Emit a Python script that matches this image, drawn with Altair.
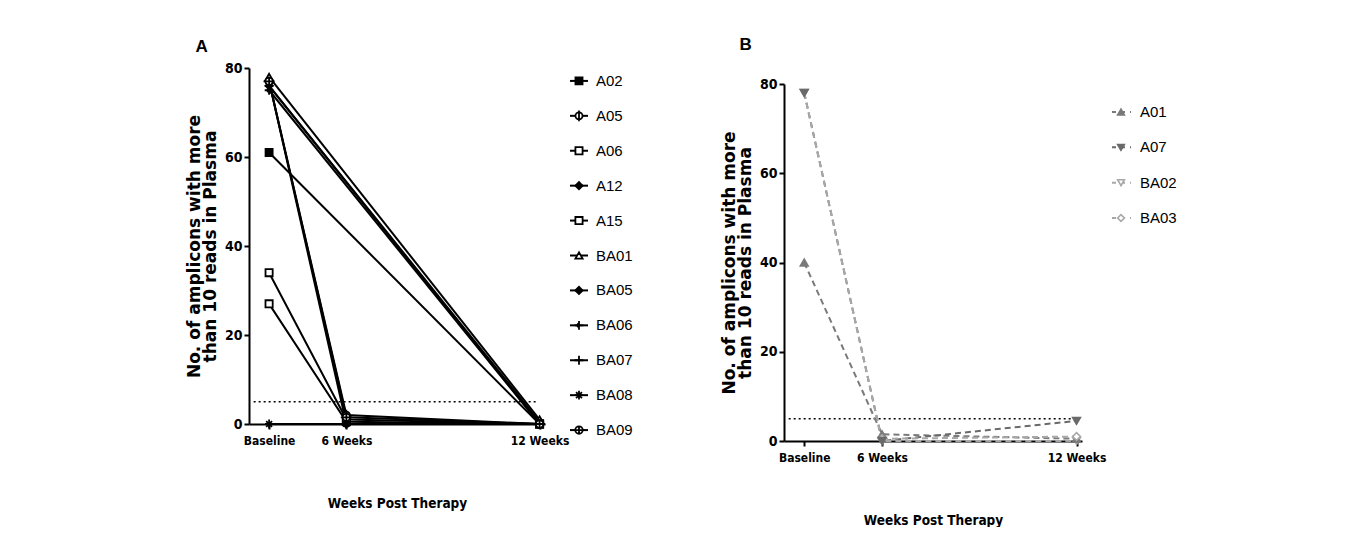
import altair as alt
import pandas as pd

# ---------------- data ----------------
time_labels = ["Baseline", "6 Weeks", "12 Weeks"]
time_pos = [0, 1, 3.5]          # uneven spacing of the time points on the axis

a_names = ["A02", "A05", "A06", "A12", "A15", "BA01", "BA05", "BA06", "BA07", "BA08", "BA09"]
a_base = [61, 77, 34, 76, 27, 78, 77, 75, 76, 0, 77]
a_w6 = [None, 2, 1, None, 0.5, None, 0, None, None, 0, 1.5]
a_w12 = [0, 0, 0, 0.5, 0, 1, 0, 0, 0, 0, 0]

b_names = ["A01", "A07", "BA02", "BA03"]
b_base = [40, 78, 78, None]
b_w6 = [1.5, 0, 0, 0.5]
b_w12 = [0.5, 4.5, 0, 1]
b_draw_order = [2, 4, 1, 3]     # A07 drawn on top of BA02

threshold = 5

# ---------------- styles ----------------
circ = "M1,0A1,1 0 1,1 -1,0A1,1 0 1,1 1,0Z"
a_shapes = [
    "square",
    circ + "M0,-1.5L0,1.5",
    "square",
    "diamond",
    "square",
    "triangle-up",
    "diamond",
    "M-1.2,0L1.2,0M0,-1.2L0,1.2M-0.5,-0.5L0,0L-0.5,0.5",
    "M-1.2,0L1.2,0M0,-1.2L0,1.2",
    "M-1.1,0L1.1,0M0,-1.2L0,1.2M-0.8,-0.8L0.8,0.8M-0.8,0.8L0.8,-0.8",
    circ + "M-1.5,0L1.5,0M0,-1L0,1",
]
a_fill = ["black", "white", "white", "black", "white", "white", "black", "black", "black", "black", "white"]
a_size = [50, 55, 60, 45, 60, 60, 60, 75, 85, 85, 60]

b_shapes = ["triangle-up", "triangle-down", "triangle-down", "diamond"]
b_color = ["#7a7a7a", "#6a6a6a", "#a8a8a8", "#a8a8a8"]
b_fill = ["#7a7a7a", "#6a6a6a", "white", "white"]

COND = "DejaVu Sans Condensed, Liberation Sans, sans-serif"
ARIAL = "Liberation Sans, Arial, sans-serif"
WIDE = "DejaVu Sans, Verdana, sans-serif"


def long_df(names, base, w6, w12, order=None):
    rows = []
    for i, n in enumerate(names):
        for t, v in zip(time_labels, (base[i], w6[i], w12[i])):
            if v is not None:
                rows.append({"patient": n, "time": t, "pos": time_pos[time_labels.index(t)], "value": v,
                             "draw": order[i] if order else i})
    return pd.DataFrame(rows)


dfa = long_df(a_names, a_base, a_w6, a_w12)
dfb = long_df(b_names, b_base, b_w6, b_w12, b_draw_order)

label_expr = " : ".join(
    [f"datum.value == {p} ? '{l}'" for p, l in zip(time_pos[:-1], time_labels[:-1])] + [f"'{time_labels[-1]}'"]
)

x_dom = [-0.26, 3.57]


def x_enc():
    return alt.X(
        "pos:Q",
        scale=alt.Scale(domain=x_dom, nice=False, zero=False),
        axis=alt.Axis(values=time_pos, labelExpr=label_expr, title="Weeks Post Therapy",
                      titlePadding=50, labelPadding=6),
    )


def y_enc(rng=None):
    sc = alt.Scale(domain=[0, 80], nice=False, range=rng) if rng else alt.Scale(domain=[0, 80], nice=False)
    return alt.Y(
        "value:Q",
        scale=sc,
        axis=alt.Axis(values=[0, 20, 40, 60, 80], tickCount=5,
                      title=["No. of amplicons with more", "than 10 reads in Plasma"],
                      titlePadding=5),
    )


# ---------------- panel A ----------------
baseA = alt.Chart(dfa)
linesA = baseA.mark_line(color="black", strokeWidth=2).encode(
    x=x_enc(), y=y_enc(), detail="patient:N", order="pos:Q"
)
pointsA = baseA.mark_point(strokeWidth=1.8, opacity=1).encode(
    x="pos:Q", y="value:Q",
    shape=alt.Shape("patient:N", scale=alt.Scale(domain=a_names, range=a_shapes), legend=None),
    fill=alt.Fill("patient:N", scale=alt.Scale(domain=a_names, range=a_fill), legend=None),
    size=alt.Size("patient:N", scale=alt.Scale(domain=a_names, range=a_size), legend=None),
    color=alt.value("black"),
)
thrA = alt.Chart(pd.DataFrame({"t": [threshold]})).mark_rule(
    color="black", strokeDash=[2, 3], strokeWidth=1.6
).encode(x=alt.datum(-0.2), x2=alt.datum(3.47), y="t:Q")

panelA = alt.layer(thrA, linesA, pointsA).properties(
    width=296, height=356,
    title=alt.TitleParams("A", anchor="start", frame="bounds", dx=10, offset=5, fontSize=17, font=ARIAL,
                          fontWeight="bold", color="black"),
)

# ---------------- panel B ----------------
HB = 373
baseB = alt.Chart(dfb)
linesB = baseB.mark_line(strokeWidth=2, strokeDash=[6, 4]).encode(
    x=x_enc(), y=y_enc([HB, 16]), detail="patient:N", order="pos:Q",
    color=alt.Color("patient:N", scale=alt.Scale(domain=b_names, range=b_color), legend=None),
)
pointsB = baseB.mark_point(strokeWidth=1.6, size=60, opacity=1).encode(
    x="pos:Q", y="value:Q",
    shape=alt.Shape("patient:N", scale=alt.Scale(domain=b_names, range=b_shapes), legend=None),
    fill=alt.Fill("patient:N", scale=alt.Scale(domain=b_names, range=b_fill), legend=None),
    color=alt.Color("patient:N", scale=alt.Scale(domain=b_names, range=b_color), legend=None),
    order=alt.Order("draw:Q"),
)
thrB = alt.Chart(pd.DataFrame({"t": [threshold]})).mark_rule(
    color="black", strokeDash=[2, 3], strokeWidth=1.6
).encode(x=alt.datum(-0.2), x2=alt.datum(3.47), y="t:Q")

panelB = alt.layer(thrB, linesB, pointsB).properties(
    width=298, height=HB,
    title=alt.TitleParams("B", anchor="start", frame="bounds", dx=19, offset=14, fontSize=17, font=ARIAL,
                          fontWeight="bold", color="black"),
)

# ---------------- manual legends ----------------
def legend_y(n, pad):
    return alt.Y("idx:Q", scale=alt.Scale(domain=[-pad, n - 1 + pad], reverse=True, nice=False, zero=False),
                 axis=None)


legA_df = pd.DataFrame({"patient": a_names, "idx": list(range(len(a_names)))})
legA_y = legend_y(len(a_names), 0.37)
legA_rule = alt.Chart(legA_df).mark_rule(color="black", strokeWidth=2).encode(
    x=alt.value(-3), x2=alt.value(15), y=legA_y
)
legA_pts = alt.Chart(legA_df).mark_point(strokeWidth=1.8, opacity=1).encode(
    x=alt.value(6), y=legA_y,
    shape=alt.Shape("patient:N", scale=alt.Scale(domain=a_names, range=a_shapes), legend=None),
    fill=alt.Fill("patient:N", scale=alt.Scale(domain=a_names, range=a_fill), legend=None),
    size=alt.Size("patient:N", scale=alt.Scale(domain=a_names, range=a_size), legend=None),
    color=alt.value("black"),
)
legA_txt = alt.Chart(legA_df).mark_text(
    align="left", baseline="middle", font=ARIAL, fontSize=15, color="black"
).encode(x=alt.value(23), y=legA_y, text="patient:N")
legendA = alt.layer(legA_rule, legA_pts, legA_txt).properties(width=147, height=375)

legB_df = pd.DataFrame({"patient": b_names, "idx": list(range(len(b_names)))})
legB_y = legend_y(len(b_names), 1.246)
legB_rule = alt.Chart(legB_df).mark_rule(strokeWidth=2, strokeDash=[4, 5]).encode(
    x=alt.value(6), x2=alt.value(25), y=legB_y,
    color=alt.Color("patient:N", scale=alt.Scale(domain=b_names, range=b_color), legend=None),
)
legB_pts = alt.Chart(legB_df).mark_point(strokeWidth=1.6, size=45, opacity=1).encode(
    x=alt.value(15), y=legB_y,
    shape=alt.Shape("patient:N", scale=alt.Scale(domain=b_names, range=b_shapes), legend=None),
    fill=alt.Fill("patient:N", scale=alt.Scale(domain=b_names, range=b_fill), legend=None),
    color=alt.Color("patient:N", scale=alt.Scale(domain=b_names, range=b_color), legend=None),
)
legB_txt = alt.Chart(legB_df).mark_text(
    align="left", baseline="middle", font=ARIAL, fontSize=15, color="black"
).encode(x=alt.value(34), y=legB_y, text="patient:N")
legendB = alt.layer(legB_rule, legB_pts, legB_txt).properties(width=100, height=194)

chart = alt.hconcat(panelA, legendA, panelB, legendB, spacing=0).resolve_scale(
    shape="independent", fill="independent", color="independent", size="independent", y="independent"
).properties(
    padding={"left": 177, "top": 28, "right": 0, "bottom": 0}
).configure_view(stroke=None).configure_axis(
    domainColor="black", domainWidth=2, tickColor="black", tickWidth=2, tickSize=5,
    labelColor="black", labelFont=COND, labelFontSize=12, labelFontWeight="bold",
    titleColor="black", grid=False,
).configure_axisY(
    titleFont=WIDE, titleFontSize=17, titleFontWeight="bold", titleLineHeight=16,
    labelFontSize=14, labelPadding=2,
).configure_axisX(
    titleFont=COND, titleFontSize=13.5, titleFontWeight="bold",
)

chart.save("out.html", embed_options={"renderer": "svg", "actions": False})
